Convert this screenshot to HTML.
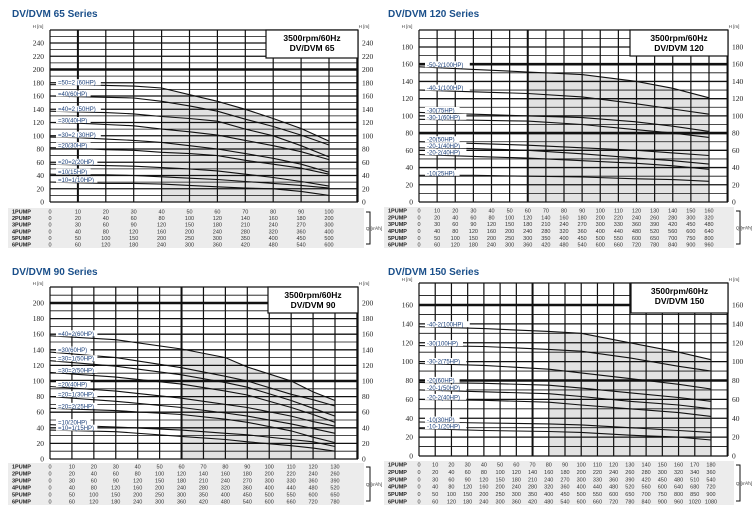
<!DOCTYPE html>
<html><head><meta charset="utf-8"><style>
body{margin:0;background:#fff;width:753px;height:516px;overflow:hidden;font-family:"Liberation Sans",sans-serif}
svg{display:block}
</style></head><body>
<svg id="s" width="753" height="516" viewBox="0 0 753 516" xmlns="http://www.w3.org/2000/svg"></svg>
<script>
// ---- Chart 1: DV/DVM 65 ----
const c1Labels=["=50=2 (60HP)","=40(60HP)","=40=2 (50HP)","=30(40HP)","=30=2 (30HP)","=20(30HP)","=20=2(20HP)","=10(15HP)","=10=1(10HP)"];
const c1Q=[0,10,20,30,40,50,60,70,80,90,100];
const c1H=[
[177,177,176,175,172,162,152,140,126,111,92],
[160,159,158,157,152,145,137,125,114,101,86],
[137,136,135,133,129,126,122,110,100,85,68],
[120,119,117,115,110,106,101,93,85,76,64],
[98,97,95,93,90,85,80,73,66,57,45],
[82,81,79,78,75,73,70,63,57,51,42],
[57,56,55,54,52,50,47,42,37,31,24],
[42,41,41,40,38,36,34,31,28,25,21],
[30,29,28,28,27,25,23,21,20,16,10]];
const c1Ticks=[0,20,40,60,80,100,120,140,160,180,200,220,240];
// ---- Chart 2: DV/DVM 120 ----
const c2Labels=["-50-2(100HP)","-40-1(100HP)","-30(75HP)","-30-1(60HP)","-20(50HP)","-20-1(40HP)","-20-2(40HP)","-10(25HP)"];
const c2Q=[0,30,60,90,120,140,160];
const c2H=[
[157,154,151,148,140,132,121],
[130,128,126,122,114,108,102],
[104,102,100,98,93,88,82],
[96,95,94,90,84,80,75],
[70,68,66,63,60,57,54],
[63,62,60,56,51,48,44],
[55,53,51,48,45,42,38],
[31,31,30,29,27,26,24]];
const c2Ticks=[0,20,40,60,80,100,120,140,160,180];
// ---- Chart 3: DV/DVM 90 ----
const c3Labels=["=40=2(60HP)","=30(60HP)","=30=1(50HP)","=30=2(50HP)","=20(40HP)","=20=1(30HP)","=20=2(25HP)","=10(20HP)","=10=1(15HP)"];
const c3Q=[0,30,60,80,90,110,120,130];
const c3H=[
[158,153,141,130,118,100,86,75],
[137,130,117,106,100,83,76,68],
[126,119,108,98,92,75,65,55],
[111,105,96,87,82,66,57,47],
[93,87,78,70,66,55,48,42],
[80,74,66,59,55,45,39,33],
[65,62,57,51,47,36,28,21],
[44,41,37,33,31,25,22,16],
[37,35,29,25,22,17,14,10]];
const c3Ticks=[0,20,40,60,80,100,120,140,160,180,200];
// ---- Chart 4: DV/DVM 150 ----
const c4Labels=["-40-2(100HP)","-30(100HP)","-30-2(75HP)","-20(60HP)","-20-1(50HP)","-20-2(40HP)","-10(30HP)","-10-1(20HP)"];
const c4Q=[0,40,80,100,130,160,180];
const c4H=[
[137,135,132,130,120,110,102],
[117,116,113,111,104,95,90],
[98,96,92,88,82,76,71],
[78,77,75,72,67,62,58],
[70,68,66,63,58,54,50],
[60,59,57,54,50,46,42],
[36,35,34,33,30,27,25],
[29,27,26,25,22,20,17]];
const c4Ticks=[0,20,40,60,80,100,120,140,160];

const NS="http://www.w3.org/2000/svg";
const svg=document.getElementById('s');
function mk(tag,attrs,parent){const e=document.createElementNS(NS,tag);for(const k in attrs)e.setAttribute(k,attrs[k]);(parent||svg).appendChild(e);return e;}

function chart(cfg,labels,Q,H,ticks){
  const g=mk('g',{});
  
  
  const xs=v=>cfg.x0+(cfg.x1-cfg.x0)*v/cfg.qmax;
  const ys=v=>cfg.y0-(cfg.y0-cfg.y1)*v/cfg.hmax;
  const t=mk('text',{x:cfg.ox+12,y:cfg.oy+17,'font-size':10,'font-weight':'bold',fill:'#1a4f8a'},g);
  t.textContent=cfg.title;
  
  
  const top=H[0];
  let d='M'+xs(cfg.shadeFrom)+','+ys(0);
  const n=40;
  for(let i=0;i<=n;i++){const q=cfg.shadeFrom+(Q[Q.length-1]-cfg.shadeFrom)*i/n;d+=' L'+xs(q)+','+ys(interp(Q,top,q));}
  d+=' L'+xs(Q[Q.length-1])+','+ys(0)+' Z';
  const sh=mk('path',{d:d,fill:'#e2e2e2'},g);
  
  
  for(let h=0;h<=cfg.htop;h+=cfg.hminor){
    const y=ys(h);
    const thick=cfg.heavy.includes(h)?2.6:(h%20===0?1.3:0.8);
    mk('line',{x1:cfg.x0,x2:cfg.xr,y1:y,y2:y,stroke:'#111','stroke-width':thick},g);
  }
  for(let q=10;cfg.x0+(cfg.x1-cfg.x0)*q/cfg.qmax<=cfg.xr+1;q+=10){
    const x=xs(q);
    mk('line',{x1:x,x2:x,y1:cfg.ytop,y2:ys(0),stroke:'#111','stroke-width':cfg.vheavy.includes(q)?2:1.2},g);
  }
  mk('line',{x1:cfg.x0,x2:cfg.x0,y1:cfg.ytop,y2:ys(0),stroke:'#111','stroke-width':1.2},g);
  mk('line',{x1:cfg.xr,x2:cfg.xr,y1:cfg.ytop,y2:ys(0),stroke:'#111','stroke-width':1.2},g);
  mk('line',{x1:cfg.x0,x2:cfg.xr,y1:cfg.ytop,y2:cfg.ytop,stroke:'#111','stroke-width':1.2},g);
  ticks.forEach(v=>{
    const a=mk('text',{x:cfg.x0-6,y:ys(v)+2.5,'font-size':7.5,'text-anchor':'end','font-family':'Liberation Serif, serif',fill:'#222'},g);
    a.textContent=v;
    
    
    const b=mk('text',{x:cfg.xr+4,y:ys(v)+2.5,'font-size':7.5,'font-family':'Liberation Serif, serif',fill:'#222'},g);
    b.textContent=v;
    
    
  });
  [cfg.x0-12,cfg.xr+6].forEach(x=>{
    const u=mk('text',{x:x,y:cfg.ytop-2,'font-size':4.5,'text-anchor':'middle',fill:'#333'},g);
    u.textContent='H [m]';
    
    
  });
  H.forEach((row,i)=>{
    let p='';
    row.forEach((h,j)=>{p+=(j?' L':'M')+xs(Q[j]).toFixed(1)+','+ys(h).toFixed(1);});
    const c=mk('path',{d:p,fill:'none',stroke:'#111','stroke-width':1.1},g);
    
    
  });
  H.forEach((row,i)=>{
    const lx=cfg.x0+8, ly=ys(row[0])-1.5;
    const w=labels[i].length*3.4+4;
    mk('rect',{x:lx-2,y:ly-4,width:w,height:6,fill:'#fff'},g);
    const l=mk('text',{x:lx,y:ly+1.5,'font-size':6,fill:'#1a3f7a'},g);
    l.textContent=labels[i];
    
    
  });
  const bx=mk('rect',{x:cfg.boxX,y:cfg.ytop,width:cfg.xr-cfg.boxX,height:cfg.boxH,fill:'#fff',stroke:'#111','stroke-width':1.2},g);
  
  
  const cx=(cfg.boxX+cfg.xr)/2;
  const b1=mk('text',{x:cx,y:cfg.ytop+11,'font-size':8.5,'font-weight':'bold','text-anchor':'middle'},g);b1.textContent='3500rpm/60Hz';
  
  
  const b2=mk('text',{x:cx,y:cfg.ytop+21,'font-size':8.5,'font-weight':'bold','text-anchor':'middle'},g);b2.textContent=cfg.model;
  
  
  const tb=mk('rect',{x:cfg.ox+8,y:cfg.tY,width:cfg.xr+6-(cfg.ox+8),height:cfg.tH,fill:'#ececec'},g);
  
  
  const rh=cfg.tH/6;
  for(let r=1;r<=6;r++){
    const y=cfg.tY+rh*(r-0.5)+2;
    const lb=mk('text',{x:cfg.ox+12,y:y,'font-size':5.5,'font-weight':'bold',fill:'#222'},g);
    lb.textContent=r+'PUMP';
    
    
    for(let q=0;q<=cfg.qmax;q+=10){
      const v=mk('text',{x:xs(q),y:y,'font-size':5.5,'text-anchor':'middle',fill:'#333'},g);
      v.textContent=q*r;
      
      
    }
  }
  const br=mk('path',{d:`M${cfg.xr+8},${cfg.tY+4} h4 v${cfg.tH-8} h-4`,fill:'none',stroke:'#111','stroke-width':1},g);
  
  
  const qt=mk('text',{x:cfg.xr+16,y:cfg.tY+cfg.tH/2+2,'font-size':4.5,'text-anchor':'middle',fill:'#333'},g);
  qt.textContent='Q [m³/h]';
  
  
}
function interp(X,Y,x){for(let i=1;i<X.length;i++){if(x<=X[i]){const t=(x-X[i-1])/(X[i]-X[i-1]);return Y[i-1]+t*(Y[i]-Y[i-1]);}}return Y[Y.length-1];}

chart({name:'chart-dv65',title:'DV/DVM 65 Series',model:'DV/DVM 65',ox:0,oy:0,x0:50,x1:329,qmax:100,xr:358,y0:202,y1:43,hmax:240,htop:250,hminor:10,ytop:30,heavy:[200],vheavy:[10],shadeFrom:40,boxX:266,boxH:28,tY:208,tH:40},c1Labels,c1Q,c1H,c1Ticks);
chart({name:'chart-dv120',title:'DV/DVM 120 Series',model:'DV/DVM 120',ox:376,oy:0,x0:419,x1:709,qmax:160,xr:728,y0:202,y1:47,hmax:180,htop:196,hminor:10,ytop:30,heavy:[80,160],vheavy:[60],shadeFrom:60,boxX:630,boxH:26,tY:207,tH:41},c2Labels,c2Q,c2H,c2Ticks);
chart({name:'chart-dv90',title:'DV/DVM 90 Series',model:'DV/DVM 90',ox:0,oy:258,x0:50,x1:335,qmax:130,xr:358,y0:459,y1:303,hmax:200,htop:210,hminor:10,ytop:287,heavy:[100,200],vheavy:[60],shadeFrom:60,boxX:268,boxH:26,tY:463,tH:42},c3Labels,c3Q,c3H,c3Ticks);
chart({name:'chart-dv150',title:'DV/DVM 150 Series',model:'DV/DVM 150',ox:376,oy:258,x0:419,x1:711,qmax:180,xr:728,y0:456,y1:305,hmax:160,htop:170,hminor:10,ytop:283,heavy:[80,160],vheavy:[70],shadeFrom:80,boxX:631,boxH:30,tY:461,tH:44},c4Labels,c4Q,c4H,c4Ticks);
</script>
</body></html>
